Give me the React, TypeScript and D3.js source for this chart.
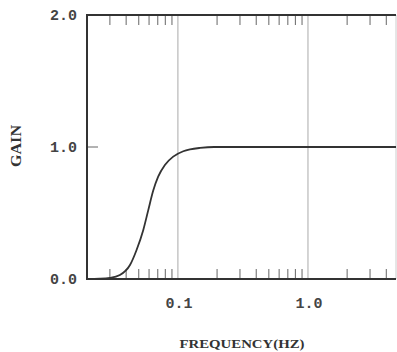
import React from "react";
import * as d3 from "d3";

// Frequency response samples (Hz, gain)
const freqs = [0.02, 0.025, 0.03, 0.0358, 0.0428, 0.0481, 0.0541, 0.0591, 0.0646, 0.0705, 0.0794, 0.092, 0.11, 0.124, 0.148, 0.19, 0.5, 1, 2, 4.75];
const gains = [0, 0.002, 0.008, 0.03, 0.106, 0.22, 0.37, 0.52, 0.67, 0.775, 0.864, 0.927, 0.968, 0.982, 0.993, 1, 1, 1, 1, 1];

const xMajorTicks = [0.1, 1.0];
const xMajorLabels = ["0.1", "1.0"];
const xMinorTicks = [0.03, 0.04, 0.05, 0.06, 0.07, 0.08, 0.09, 0.2, 0.3, 0.4, 0.5, 0.6, 0.7, 0.8, 0.9, 2, 3, 4];
const yTicks = [0, 1, 2];
const yLabels = ["0.0", "1.0", "2.0"];

const W = 397;
const H = 352;
const left = 87;
const right = 396;
const top = 15;
const bottom = 279;

export default function App() {
  const x = d3.scaleLog().domain([0.02, 4.75]).range([left, right]);
  const y = d3.scaleLinear().domain([0, 2]).range([bottom, top]);

  const pts: [number, number][] = freqs.map((f, i) => [x(f), y(gains[i])]);
  const path = d3.line().curve(d3.curveMonotoneX)(pts) || "";

  const ink = "#333";
  const mono = "'Liberation Mono', 'DejaVu Sans Mono', monospace";
  const serif = "'Liberation Serif', 'DejaVu Serif', serif";

  return (
    <div style={{ position: "absolute", left: 0, top: 0 }}>
      <svg width={W} height={H} style={{ display: "block", background: "#fff" }}>
        {/* vertical grid at decades */}
        {xMajorTicks.map((t) => (
          <line key={"g" + t} x1={x(t)} x2={x(t)} y1={top} y2={bottom} stroke="#aaa" strokeWidth={1} />
        ))}
        {/* minor ticks, top and bottom, pointing inward */}
        {xMinorTicks.map((t) => (
          <g key={"m" + t}>
            <line x1={x(t)} x2={x(t)} y1={bottom} y2={bottom - 10} stroke="#666" strokeWidth={1} />
            <line x1={x(t)} x2={x(t)} y1={top} y2={top + 10} stroke="#666" strokeWidth={1} />
          </g>
        ))}
        {/* y tick at 1.0 */}
        <line x1={left} x2={left + 11} y1={y(1)} y2={y(1)} stroke="#666" strokeWidth={1} />
        {/* frame */}
        <line x1={right} x2={right} y1={top} y2={bottom} stroke="#ccc" strokeWidth={1} />
        <line x1={left} x2={right} y1={top} y2={top} stroke={ink} strokeWidth={2} />
        <line x1={left} x2={right} y1={bottom} y2={bottom} stroke={ink} strokeWidth={2} />
        <line x1={left} x2={left} y1={top - 1} y2={bottom + 1} stroke={ink} strokeWidth={2} />
        {/* response curve */}
        <path d={path} fill="none" stroke={ink} strokeWidth={1.8} />
        {/* y labels */}
        {yTicks.map((t, i) => (
          <text key={"yl" + t} x={77} y={y(t) + 5} textAnchor="end" fontFamily={mono} fontSize={15} fontWeight="bold" fill="#444">
            {yLabels[i]}
          </text>
        ))}
        {/* x labels */}
        {xMajorTicks.map((t, i) => (
          <text key={"xl" + t} x={x(t) + 1} y={308} textAnchor="middle" fontFamily={mono} fontSize={15} fontWeight="bold" fill="#444">
            {xMajorLabels[i]}
          </text>
        ))}
        <text x={242} y={348} textAnchor="middle" fontFamily={serif} fontSize={13} fontWeight="bold" fill={ink} textLength={125} lengthAdjust="spacingAndGlyphs">
          FREQUENCY(HZ)
        </text>
        <text transform="translate(21,146) rotate(-90)" textAnchor="middle" fontFamily={serif} fontSize={14} fontWeight="bold" fill={ink} textLength={42} lengthAdjust="spacingAndGlyphs">
          GAIN
        </text>
      </svg>
    </div>
  );
}
